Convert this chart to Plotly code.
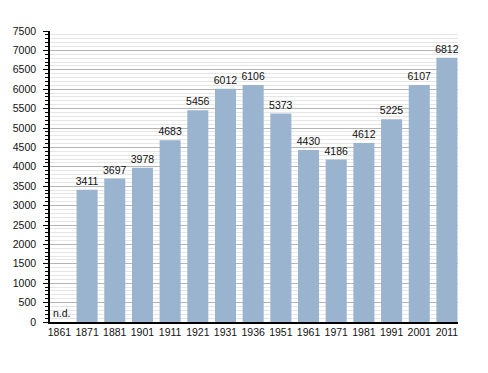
import plotly.graph_objects as go

years = ["1861", "1871", "1881", "1901", "1911", "1921", "1931", "1936",
         "1951", "1961", "1971", "1981", "1991", "2001", "2011"]
population = [None, 3411, 3697, 3978, 4683, 5456, 6012, 6106,
              5373, 4430, 4186, 4612, 5225, 6107, 6812]
missing_label = "n.d."
y_ticks = list(range(0, 7501, 500))

font_family = "Liberation Sans, Arial, Helvetica, sans-serif"
fs = 10.5

fig = go.Figure()
fig.add_trace(go.Bar(
    x=years,
    y=population,
    marker=dict(color="#9ab3cf", line=dict(width=0)),
    width=0.76,
    text=[("" if v is None else str(v)) for v in population],
    textposition="outside",
    constraintext="none",
    textfont=dict(family=font_family, size=fs, color="#111111"),
    cliponaxis=False,
    hoverinfo="x+y",
))

fig.add_annotation(
    xref="x", yref="y",
    x=0, y=0, text=missing_label, showarrow=False,
    xanchor="left", yanchor="bottom", yshift=1, xshift=-8,
    font=dict(family=font_family, size=fs, color="#111111"),
)

fig.update_layout(
    width=488, height=373,
    margin=dict(l=50, r=30, t=31, b=51, autoexpand=False),
    paper_bgcolor="white",
    plot_bgcolor="white",
    showlegend=False,
    font=dict(family=font_family, size=fs, color="#111111"),
)

fig.update_xaxes(
    type="category",
    range=[-0.34, 14.4],
    automargin=False,
    showline=True, linecolor="black", linewidth=1.5,
    ticks="", showgrid=False,
    tickfont=dict(family=font_family, size=fs, color="#111111"),
)

fig.update_yaxes(
    range=[0, 7500],
    automargin=False,
    tickvals=y_ticks,
    showline=True, linecolor="black", linewidth=1.5,
    ticks="outside", ticklen=5, tickcolor="black", tickwidth=1,
    ticklabelstandoff=5,
    showgrid=True, gridcolor="#b4b4b4", gridwidth=1,
    zeroline=False,
    minor=dict(dtick=100, showgrid=True, gridcolor="#e6e6e6", gridwidth=1,
               ticks="outside", ticklen=3, tickcolor="black"),
    tickfont=dict(family=font_family, size=fs, color="#111111"),
)

fig.write_html("out.html",
               config={"displayModeBar": False},
               post_script="document.body.style.margin='0';document.body.style.padding='0';")
